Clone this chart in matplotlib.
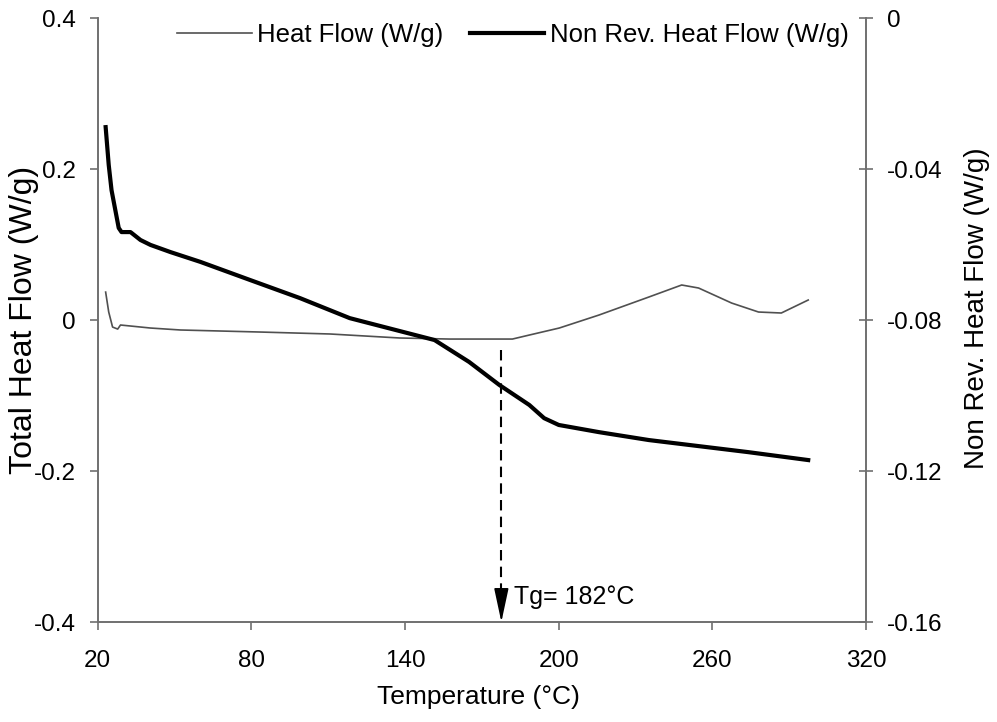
import numpy as np
import matplotlib.pyplot as plt

plt.rcParams['font.family'] = ['Liberation Sans', 'DejaVu Sans']

# total heat flow (left axis, W/g)
hf_temp = [23.1, 24.3, 25.8, 27.8, 28.9, 40.6, 52.3, 83.4, 110.7, 137.9, 157.4,
           181.9, 188.5, 200.2, 215.7, 235.2, 248.0, 254.6, 267.5, 278.0, 286.9, 297.4]
hf_val = [0.037, 0.0106, -0.0093, -0.012, -0.0066, -0.0106, -0.0132, -0.0159, -0.0185,
          -0.0238, -0.0252, -0.0252, -0.0199, -0.0106, 0.0066, 0.0305, 0.0464, 0.0424,
          0.0225, 0.0106, 0.0093, 0.0265]

# non reversing heat flow (right axis, W/g)
nr_temp = [23.1, 24.3, 25.4, 28.2, 29.3, 32.8, 36.7, 40.6, 48.4, 60.1, 79.5, 99.0,
           118.4, 151.5, 165.0, 176.8, 188.5, 194.3, 200.0, 215.7, 235.2, 254.6, 274.0, 297.4]
nr_val = [-0.0289, -0.0389, -0.0456, -0.0556, -0.0567, -0.0567, -0.0588, -0.0601, -0.062,
          -0.0646, -0.0694, -0.0742, -0.0795, -0.0853, -0.0911, -0.0972, -0.1025, -0.106,
          -0.1078, -0.1097, -0.1118, -0.1134, -0.115, -0.1171]

tg_pos = 177.6
tg_label = 'Tg= 182°C'

fig = plt.figure(figsize=(9.97, 7.22), dpi=100)
ax = fig.add_axes([0.098, 0.1385, 0.7707, 0.8365])
ax2 = ax.twinx()

l1, = ax.plot(hf_temp, hf_val, color='#505050', lw=1.2, label='Heat Flow (W/g)')
l2, = ax2.plot(nr_temp, nr_val, color='black', lw=3, label='Non Rev. Heat Flow (W/g)')

ax.set_xlim(20, 320)
ax.set_ylim(-0.4, 0.4)
ax2.set_ylim(-0.16, 0)
ax.set_xticks(np.arange(20, 321, 60))
ax.set_yticks([-0.4, -0.2, 0, 0.2, 0.4])
ax.set_yticklabels(['-0.4', '-0.2', '0', '0.2', '0.4'])
ax2.set_yticks([-0.16, -0.12, -0.08, -0.04, 0])
ax2.set_yticklabels(['-0.16', '-0.12', '-0.08', '-0.04', '0'])

for a in (ax, ax2):
    a.spines['top'].set_visible(False)
    for s in a.spines.values():
        s.set_color('#707070')
        s.set_linewidth(1.2)
ax.tick_params(axis='x', labelsize=17.5, length=6, width=1.2, color='#707070', pad=14)
ax.tick_params(axis='y', labelsize=17.5, length=6, width=1.2, color='#707070', pad=10)
ax2.tick_params(axis='y', labelsize=17.5, length=10, width=1.2, color='#707070',
                direction='inout', pad=10)

ax.set_xlabel('Temperature (°C)', fontsize=19)
ax.set_ylabel('Total Heat Flow (W/g)', fontsize=23)
ax2.set_ylabel('Non Rev. Heat Flow (W/g)', fontsize=20)
ax.xaxis.set_label_coords(0.496, -0.124)
ax.yaxis.set_label_coords(-0.0956, 0.5)
ax2.yaxis.set_label_coords(1.144, 0.52)
for lab in (ax.xaxis.label, ax.yaxis.label, ax2.yaxis.label):
    lab.set_va('center')
    lab.set_ha('center')

# Tg marker
ax.plot([tg_pos, tg_pos], [-0.04, -0.362], color='black', lw=1.5, ls=(0, (5, 3)))
ax.annotate('', xy=(tg_pos, -0.4), xytext=(tg_pos, -0.36),
            arrowprops=dict(arrowstyle='-|>,head_length=2.1,head_width=0.45',
                            color='black', lw=1.2, shrinkA=0, shrinkB=0))
ax.text(182.4, -0.367, tg_label, fontsize=18, va='center', ha='left')

fig.legend(handles=[l1, l2], loc='center left', bbox_to_anchor=(177 / 997, 1 - 35 / 722),
           ncol=2, frameon=False, fontsize=18.5, handlelength=2.9, handletextpad=0.2,
           columnspacing=1.05, borderpad=0, borderaxespad=0)

fig.savefig('out.png', dpi=100)
